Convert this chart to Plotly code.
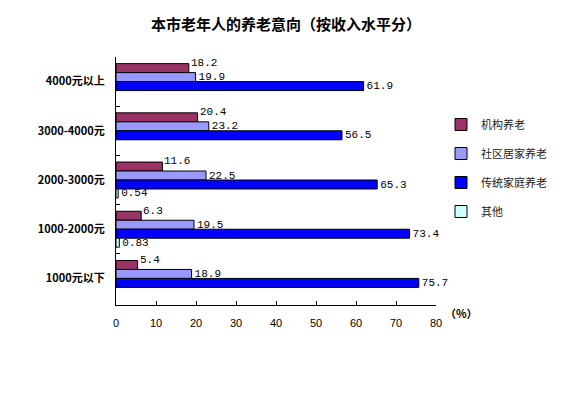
import plotly.graph_objects as go

categories = ["4000元以上", "3000-4000元", "2000-3000元", "1000-2000元", "1000元以下"]
series_names = ["机构养老", "社区居家养老", "传统家庭养老", "其他"]
jigou = [18.2, 20.4, 11.6, 6.3, 5.4]
shequ = [19.9, 23.2, 22.5, 19.5, 18.9]
chuantong = [61.9, 56.5, 65.3, 73.4, 75.7]
qita = [None, None, 0.54, 0.83, None]
x_ticks = [0, 10, 20, 30, 40, 50, 60, 70, 80]

colors = ["#993366", "#9999FF", "#0000FF", "#CCFFFF"]
series_values = [jigou, shequ, chuantong, qita]

L, R, T, B = 116, 135, 57, 88
PW = 571 - L - R
PH = 393 - T - B
BARGAP = 0.27
label_font = dict(family="Liberation Mono", size=11, color="black")

fig = go.Figure()
for i, (name, vals) in enumerate(zip(series_names, series_values)):
    fig.add_trace(go.Bar(
        y=categories, x=vals, name=name, orientation="h",
        marker=dict(color=colors[i], line=dict(color="black", width=1)),
        text=["" if v is None else str(v) for v in vals],
        textposition="none" if i == 0 else "outside",
        cliponaxis=False, constraintext="none",
        textfont=label_font,
        legendgroup=f"g{i}",
    ))

# labels of the first series sit slightly above their bars (as in the reference)
slot_px = PH / len(categories) * (1 - BARGAP) / len(series_names)
first_offset = 1.5 * slot_px  # distance of first bar centre above category centre
for cat, v in zip(categories, jigou):
    fig.add_annotation(x=v, y=cat, xref="x", yref="y", text=str(v), showarrow=False,
                       xanchor="left", yanchor="middle", xshift=0,
                       yshift=first_offset + 5, font=label_font)

fig.update_layout(
    width=571, height=393,
    paper_bgcolor="white", plot_bgcolor="white",
    barmode="group", bargap=BARGAP, bargroupgap=0,
    margin=dict(l=L, r=R, t=T, b=B, autoexpand=False),
    font=dict(family="Noto Sans CJK SC", color="black"),
    title=dict(text="<b>本市老年人的养老意向（按收入水平分）</b>",
               xref="container", yref="container",
               x=286 / 571, xanchor="center", y=1 - 25 / 393, yanchor="middle",
               font=dict(size=15, family="Noto Sans CJK SC", color="black")),
    legend=dict(x=(441 - L) / PW, xanchor="left", y=1 - (110 - T) / PH, yanchor="top",
                traceorder="grouped", tracegroupgap=10,
                font=dict(size=11, family="Noto Sans CJK SC", color="#222222"),
                bgcolor="rgba(0,0,0,0)"),
    showlegend=True,
)
fig.update_xaxes(range=[0, 80], tickvals=x_ticks, showline=True, linecolor="black",
                 linewidth=1, ticks="inside", ticklen=4, tickcolor="black",
                 showgrid=False, zeroline=False, automargin=False, ticklabelstandoff=8,
                 tickfont=dict(size=11, family="Liberation Sans", color="black"),
                 tickprefix="<b>", ticksuffix="</b>")
fig.update_yaxes(autorange="reversed", showline=True, linecolor="black", linewidth=1,
                 ticks="inside", ticklen=4, tickcolor="black", tickson="boundaries",
                 showgrid=False, ticklabelstandoff=8, automargin=False,
                 tickfont=dict(size=11, family="Noto Sans CJK SC", color="black"),
                 tickprefix="<b>", ticksuffix="</b>")
fig.add_annotation(text="<b>（%）</b>", xref="paper", yref="paper",
                   x=(461 - L) / PW, y=1 - (313 - T) / PH, showarrow=False,
                   xanchor="center", yanchor="middle",
                   font=dict(size=11, family="Noto Sans CJK SC", color="black"))

fig.write_html("out.html", config={"displayModeBar": False},
               post_script="document.body.style.margin='0';document.body.style.overflow='hidden';")
